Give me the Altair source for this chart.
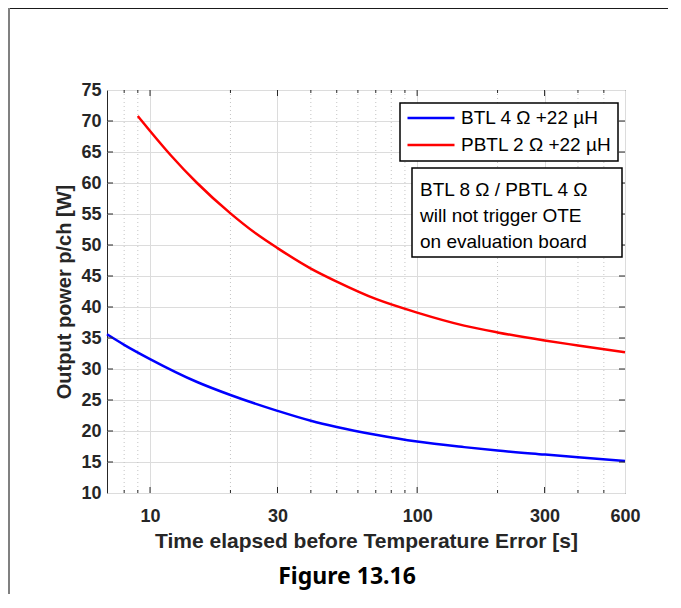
import altair as alt
import pandas as pd

# ---------------- data ----------------
series_names = ["BTL 4 \u03a9 +22 \u00b5H", "PBTL 2 \u03a9 +22 \u00b5H"]
series_colors = ["#0000ff", "#ff0000"]

btl_t = [6.9, 8, 10, 15, 20, 30, 40, 50, 70, 100, 150, 200, 300, 400, 600]
btl_p = [35.6, 33.9, 31.6, 27.9, 25.8, 23.25, 21.65, 20.65, 19.4, 18.3, 17.4, 16.85, 16.2, 15.75, 15.15]

pbtl_t = [9, 10, 12, 15, 20, 25, 30, 40, 50, 70, 100, 150, 200, 300, 400, 600]
pbtl_p = [70.8, 68.4, 64.4, 60.0, 55.1, 51.8, 49.5, 46.2, 44.1, 41.3, 39.1, 37.0, 35.9, 34.6, 33.8, 32.7]

x_labels = [10, 30, 100, 300, 600]
x_major_grid = [10, 30, 100, 300]
x_minor = [8, 9, 20, 40, 50, 60, 70, 80, 90, 200, 400, 500]
y_ticks = [10, 15, 20, 25, 30, 35, 40, 45, 50, 55, 60, 65, 70, 75]
y_inner_ticks = [15, 20, 25, 30, 35, 40, 45, 50, 55, 60, 65, 70]

annotation_lines = ["BTL 8 \u03a9 / PBTL 4 \u03a9", "will not trigger OTE", "on evaluation board"]
x_title = "Time elapsed before Temperature Error [s]"
y_title = "Output power p/ch [W]"
caption = "Figure 13.16"

# ---------------- layout ----------------
W, H = 518, 403
PAD = {"left": 99, "top": 82, "right": 43, "bottom": 101}
FONT = "Liberation Sans"
DARK = "#262626"

lines_df = pd.DataFrame(
    {"t": btl_t + pbtl_t,
     "p": btl_p + pbtl_p,
     "series": [series_names[0]] * len(btl_t) + [series_names[1]] * len(pbtl_t)}
)
major_df = pd.DataFrame({"t": x_major_grid})
minor_df = pd.DataFrame({"t": x_minor})
yt_df = pd.DataFrame({"p": y_inner_ticks})
one = pd.DataFrame({"k": [0]})

xscale = alt.Scale(type="log", domain=[6.9, 600], nice=False)
yscale = alt.Scale(domain=[10, 75], nice=False)

xaxis = alt.Axis(
    values=x_labels, format="d", grid=True, title=x_title,
    labelPadding=14, labelFlush=False, labelOverlap=False,
    titleFontSize=21, titleX=W / 2, titleY=54, titleBaseline="alphabetic",
)
yaxis = alt.Axis(
    values=y_ticks, grid=True, title=y_title,
    labelPadding=6, titleFontSize=20, titleX=-37, titleY=H / 2,
    titleBaseline="alphabetic",
)

xenc = alt.X("t:Q", scale=xscale, axis=xaxis)
yenc = alt.Y("p:Q", scale=yscale, axis=yaxis)

lines = alt.Chart(lines_df).mark_line(strokeWidth=2.5, interpolate="monotone").encode(
    x=xenc,
    y=yenc,
    color=alt.Color(
        "series:N",
        scale=alt.Scale(domain=series_names, range=series_colors),
        legend=alt.Legend(
            title=None, orient="none", legendX=293, legendY=13,
            symbolType="stroke", symbolSize=2209, symbolStrokeWidth=2.5,
            clipHeight=18, rowPadding=8, padding=6, labelOffset=5,
            labelFont=FONT, labelFontSize=19, labelColor="#000000",
            labelLimit=400, strokeColor="#000000", fillColor="#ffffff",
        ),
    ),
)

minor_grid = alt.Chart(minor_df).mark_rule(
    color="#c4c4c4", strokeDash=[1, 3], strokeWidth=1
).encode(x=xenc)

major_tick_b = alt.Chart(major_df).mark_rule(color=DARK, strokeWidth=1).encode(
    x=xenc, y=alt.value(H), y2=alt.value(H - 6))
major_tick_t = alt.Chart(major_df).mark_rule(color=DARK, strokeWidth=1).encode(
    x=xenc, y=alt.value(0), y2=alt.value(6))
minor_tick_b = alt.Chart(minor_df).mark_rule(color=DARK, strokeWidth=1).encode(
    x=xenc, y=alt.value(H), y2=alt.value(H - 3))
minor_tick_t = alt.Chart(minor_df).mark_rule(color=DARK, strokeWidth=1).encode(
    x=xenc, y=alt.value(0), y2=alt.value(3))
ytick_l = alt.Chart(yt_df).mark_rule(color=DARK, strokeWidth=1).encode(
    y=yenc, x=alt.value(0), x2=alt.value(6))
ytick_r = alt.Chart(yt_df).mark_rule(color=DARK, strokeWidth=1).encode(
    y=yenc, x=alt.value(W), x2=alt.value(W - 6))

note_box = alt.Chart(one).mark_rect(
    fill="#ffffff", stroke="#000000", strokeWidth=1.5
).encode(x=alt.value(305), x2=alt.value(515), y=alt.value(78), y2=alt.value(167))
note_text = alt.Chart(one).mark_text(
    text=annotation_lines, align="left", baseline="alphabetic",
    lineHeight=25.8, font=FONT, fontSize=19, color="#000000",
).encode(x=alt.value(313), y=alt.value(106))

caption_text = alt.Chart(one).mark_text(
    text=caption, align="center", baseline="alphabetic",
    font="Noto Sans", fontWeight="bold", fontSize=23, color="#000000",
).encode(x=alt.value(240), y=alt.value(494))

# page frame lines at the picture's top and left edges (decoration):
# an outline whose right and bottom sides fall outside the picture
frame_box = alt.Chart(one).mark_rect(
    fill=None, filled=False, stroke="#1a1a1a", strokeWidth=2
).encode(
    x=alt.value(-99), x2=alt.value(W + PAD["right"] + 60),
    y=alt.value(-82), y2=alt.value(H + PAD["bottom"] + 60))
frame_v = alt.Chart(one).mark_rect(fill="#808080", strokeWidth=0).encode(
    x=alt.value(-99), x2=alt.value(-97),
    y=alt.value(-82), y2=alt.value(H + PAD["bottom"]))

chart = alt.layer(
    minor_grid,
    lines,
    major_tick_b, major_tick_t, minor_tick_b, minor_tick_t, ytick_l, ytick_r,
    note_box, note_text, caption_text, frame_box, frame_v,
).properties(
    width=W, height=H, autosize="none", padding=PAD, background="#ffffff",
).configure_view(
    stroke=DARK, strokeWidth=1,
).configure_axis(
    domain=False, ticks=False, gridColor="#dcdcdc", gridWidth=1,
    labelFont=FONT, labelFontWeight="bold", labelFontSize=18, labelColor=DARK,
    titleFont=FONT, titleFontWeight="bold", titleColor=DARK,
).configure_legend(
    strokeWidth=1.5,
)

chart.save("out.html", embed_options={"renderer": "svg", "actions": False})
